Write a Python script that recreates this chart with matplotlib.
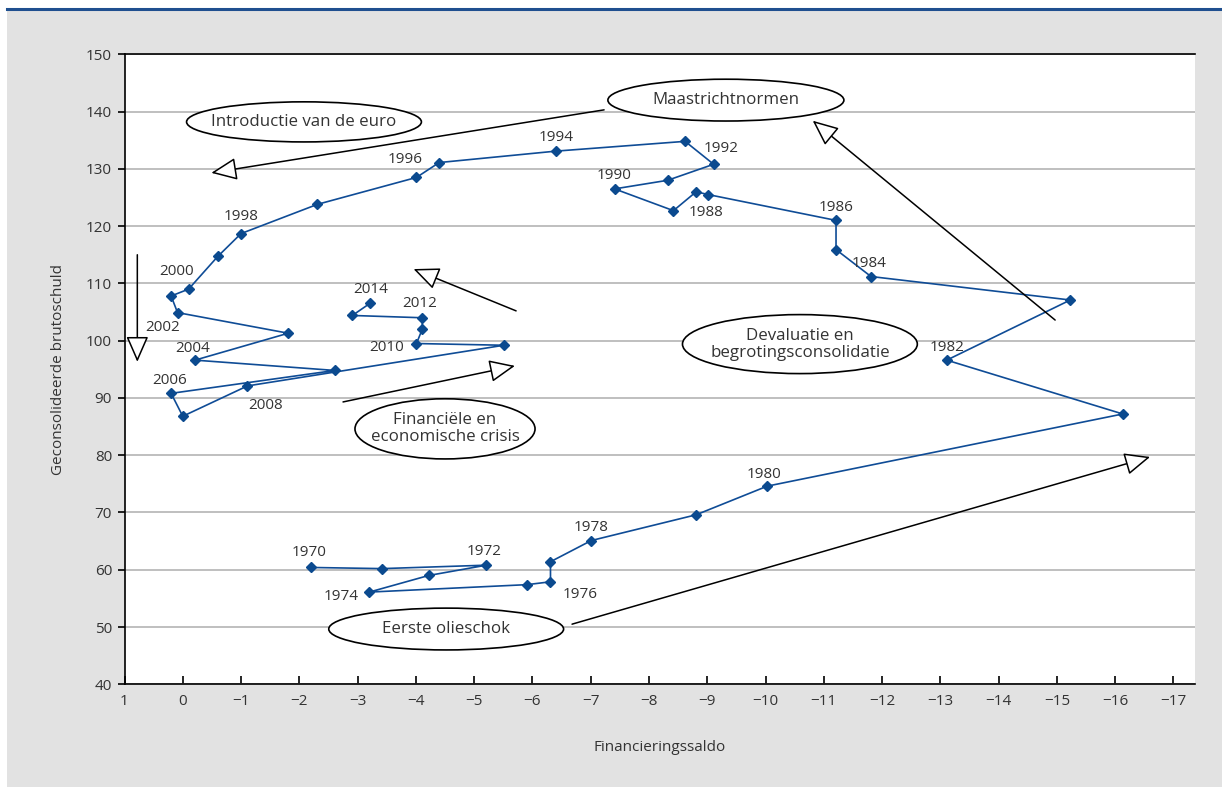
import numpy as np
import matplotlib
matplotlib.use("Agg")
import matplotlib.pyplot as plt
from matplotlib.patches import Ellipse, Rectangle

plt.rcParams['font.family'] = ['Open Sans', 'DejaVu Sans']

# data: financieringssaldo (x) vs geconsolideerde brutoschuld (y), 1970-2014
years = np.arange(1970, 2015)
saldo = [-2.20, -3.42, -5.21, -4.22, -3.20, -5.91, -6.31, -6.31, -7.01, -8.81,
         -10.03, -16.13, -13.11, -15.23, -11.81, -11.21, -11.21, -9.02, -8.81, -8.42,
         -7.41, -8.32, -9.11, -8.62, -6.41, -4.40, -4.01, -2.31, -1.00, -0.60,
         -0.10, 0.20, 0.09, -1.81, -0.21, -2.61, 0.20, 0.00, -1.11, -5.51,
         -4.01, -4.11, -4.11, -2.91, -3.21]
schuld = [60.4, 60.2, 60.8, 59.0, 56.1, 57.4, 57.9, 61.4, 65.1, 69.6,
          74.6, 87.2, 96.6, 107.1, 111.2, 115.9, 121.0, 125.5, 126.0, 122.7,
          126.5, 128.0, 130.8, 134.8, 133.1, 131.1, 128.5, 123.8, 118.7, 114.7,
          109.0, 107.8, 104.9, 101.3, 96.6, 94.8, 90.8, 86.8, 92.1, 99.2,
          99.5, 102.0, 104.0, 104.4, 106.5]

# label placement per labelled year (pixel offset, alignment)
label_pos = {
    1970: ((-2, 15), 'center'), 1972: ((-2, 14), 'center'), 1974: ((-11, -4), 'right'),
    1976: ((12, -13), 'left'), 1978: ((0, 13), 'center'), 1980: ((-3, 12), 'center'),
    1982: ((0, 13), 'center'), 1984: ((-2, 13), 'center'), 1986: ((0, 13), 'center'),
    1988: ((10, -21), 'center'), 1990: ((0, 13), 'center'), 1992: ((8, 16), 'center'),
    1994: ((0, 14), 'center'), 1996: ((-11, 18), 'center'), 1998: ((0, 17), 'center'),
    2000: ((-12, 18), 'center'), 2002: ((-15, -15), 'center'), 2004: ((-2, 12), 'center'),
    2006: ((-1, 13), 'center'), 2008: ((18, -20), 'center'), 2010: ((-12, -4), 'right'),
    2012: ((-3, 14), 'center'), 2014: ((1, 14), 'center'),
}

# annotations: text, centre, width, height
bubbles = [
    ("Introductie van de euro", (-2.08, 138.2), 4.03, 7.0),
    ("Maastrichtnormen", (-9.32, 142.0), 4.05, 7.3),
    ("Devaluatie en\nbegrotingsconsolidatie", (-10.59, 99.4), 4.03, 10.3),
    ("Financiële en\neconomische crisis", (-4.50, 84.6), 3.09, 10.5),
    ("Eerste olieschok", (-4.52, 49.65), 4.03, 7.3),
]
# arrows: tail -> head
arrows = [
    ((-7.23, 140.3), (-0.49, 129.3)),
    ((-14.97, 103.6), (-10.81, 138.4)),
    ((0.78, 115.0), (0.78, 96.3)),
    ((-5.72, 105.2), (-3.96, 112.5)),
    ((-2.75, 89.3), (-5.70, 95.6)),
    ((-6.68, 50.5), (-16.60, 79.7)),
]

fig = plt.figure(figsize=(12.22, 7.87), dpi=100)
fig.patch.set_facecolor('white')
fig.patches.append(Rectangle((7/1222, 0), 1 - 7/1222, 1 - 10/787, transform=fig.transFigure,
                             facecolor='#e2e2e2', edgecolor='none', zorder=-10))
fig.lines.append(plt.Line2D([7/1222, 1], [1 - 9/787, 1 - 9/787], transform=fig.transFigure,
                            color='#1f4f8f', lw=2.2))

ax = fig.add_axes([124.5/1222, 1 - 684.3/787, (1195 - 124.5)/1222, (684.3 - 54.3)/787])
ax.set_facecolor('white')
ax.set_xlim(1, -17.37)
ax.set_ylim(40, 150)
ax.set_xticks(np.arange(1, -18, -1))
ax.set_yticks(np.arange(40, 151, 10))
ax.yaxis.grid(True, color='#b4b4b4', lw=1.2)
ax.set_axisbelow(True)
for s in ['left', 'bottom', 'top']:
    ax.spines[s].set_color('black')
    ax.spines[s].set_linewidth(1.2)
ax.spines['right'].set_visible(False)
ax.tick_params(axis='x', direction='in', length=6, width=1.2, pad=7, labelsize=11, labelcolor='#333333')
ax.tick_params(axis='y', direction='out', length=5, width=1.2, pad=4, labelsize=11, labelcolor='#333333')

ax.plot(saldo, schuld, color='#0f4c96', lw=1.2, marker='D', markersize=5.5,
        markerfacecolor='#0b4a8f', markeredgecolor='#0b4a8f', zorder=3)

for yr, xv, yv in zip(years, saldo, schuld):
    if yr in label_pos:
        off, ha = label_pos[yr]
        ax.annotate(str(yr), (xv, yv), xytext=off, textcoords='offset pixels',
                    ha=ha, va='center', fontsize=11, color='#333333', zorder=6)

for txt, c, w, h in bubbles:
    ax.add_patch(Ellipse(c, w, h, facecolor='white', edgecolor='black', lw=1.2, zorder=4))
    ax.text(c[0], c[1], txt, ha='center', va='center', fontsize=12.2, color='#333333',
            linespacing=1.1, zorder=5)

for tail, head in arrows:
    ax.annotate('', xy=head, xytext=tail,
                arrowprops=dict(arrowstyle='-|>,head_length=1.6,head_width=0.7', mutation_scale=10,
                                fc='white', ec='black', lw=1.1, shrinkA=0, shrinkB=0),
                zorder=5)

ax.set_xlabel('Financieringssaldo', fontsize=11, color='#333333', labelpad=22)
ax.set_ylabel('Geconsolideerde brutoschuld', fontsize=11, color='#333333', labelpad=14)

fig.savefig('out.png', dpi=100)
